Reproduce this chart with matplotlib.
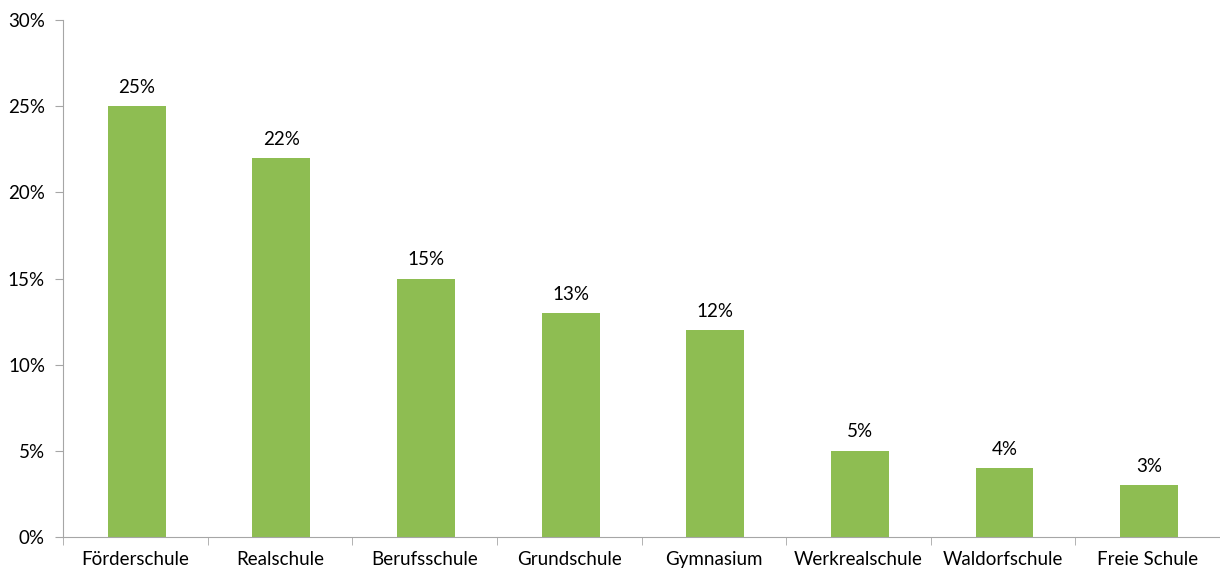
import matplotlib.pyplot as plt
import numpy as np

categories = ["Förderschule", "Realschule", "Berufsschule", "Grundschule",
              "Gymnasium", "Werkrealschule", "Waldorfschule", "Freie Schule"]
shares = [25, 22, 15, 13, 12, 5, 4, 3]
yticks = [0, 5, 10, 15, 20, 25, 30]

plt.rcParams['font.family'] = ['Lato', 'DejaVu Sans']

fig = plt.figure(figsize=(12.2, 5.71), dpi=100)
ax = fig.add_axes([63 / 1220, 34 / 571, 1 - 63 / 1220, 517 / 571])

x = np.arange(len(categories))
bars = ax.bar(x + 0.01, shares, width=0.4, color='#8EBD52', zorder=2)

for xi, v in zip(x, shares):
    ax.text(xi + 0.01, v + 0.6, f"{v}%", ha='center', va='bottom', fontsize=13.5)

ax.set_xlim(-0.5, len(categories) - 0.5)
ax.set_ylim(0, 30)
ax.set_yticks(yticks)
ax.set_yticklabels([f"{t}%" for t in yticks], fontsize=13.5)
ax.set_xticks(x)
ax.set_xticklabels(categories, fontsize=13.5)
ax.set_xticks(np.arange(len(categories) + 1) - 0.5, minor=True)

ax.tick_params(axis='x', which='major', length=0, pad=10)
ax.tick_params(axis='x', which='minor', length=6, color='#A6A6A6', direction='out')
ax.tick_params(axis='y', length=6, color='#A6A6A6', pad=7)

for side in ['top', 'right']:
    ax.spines[side].set_visible(False)
for side in ['left', 'bottom']:
    ax.spines[side].set_color('#A6A6A6')

fig.savefig('out.png', dpi=100)
